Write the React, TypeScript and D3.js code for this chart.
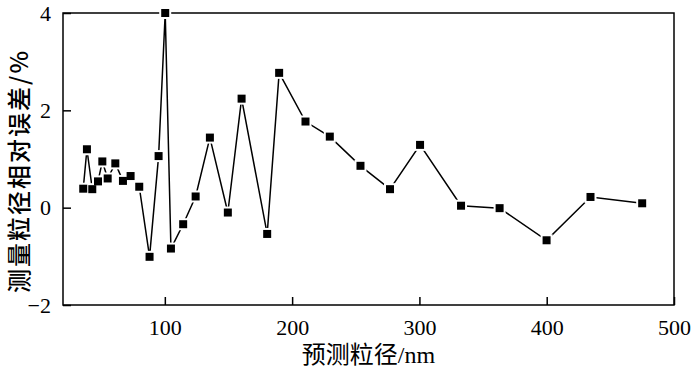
import { useRef, useEffect } from 'react'
import * as d3 from 'd3'

// predicted size (nm) vs relative error of measured size (%)
const sizes = [35.9, 38.8, 43, 47.5, 50.9, 55.1, 61.1, 67.1, 73.1, 79.9, 88, 95.1, 100.3, 104.8, 114.4, 124.2, 135.4, 149.5, 160.3, 180.4, 189.8, 210.5, 229.6, 253.7, 276.9, 300.5, 332.7, 363, 399.9, 434.4, 475]
const errors = [0.39, 1.2, 0.38, 0.54, 0.95, 0.6, 0.91, 0.55, 0.65, 0.43, -1.01, 1.06, 4.0, -0.84, -0.34, 0.23, 1.44, -0.1, 2.24, -0.54, 2.77, 1.77, 1.46, 0.86, 0.38, 1.29, 0.04, -0.01, -0.67, 0.22, 0.09]
const xTicks = [100, 200, 300, 400, 500]
const yTicks = [-2, 0, 2, 4]

const W = 700
const H = 370

const App = () => {
  const svgRef = useRef<SVGSVGElement>(null)

  useEffect(() => {
    if (!svgRef.current) return
    const svg = d3.select(svgRef.current)
    svg.selectAll('*').remove()

    const margin = { top: 13, right: 26, bottom: 65, left: 63 }
    const iw = W - margin.left - margin.right
    const ih = H - margin.top - margin.bottom
    const serif = "'Liberation Serif', 'DejaVu Serif', serif"
    const cjk = "'Liberation Serif', 'DejaVu Serif', 'Noto Sans CJK SC', serif"

    const x = d3.scaleLinear().domain([20, 500]).range([0, iw])
    const y = d3.scaleLinear().domain([-2, 4]).range([ih, 0])

    const g = svg.append('g').attr('transform', `translate(${margin.left},${margin.top})`)

    // inward ticks, bottom
    const xa = g.append('g')
      .attr('transform', `translate(0,${ih})`)
      .call(d3.axisBottom(x).tickValues(xTicks).tickSizeInner(-8).tickSizeOuter(0).tickPadding(14).tickFormat(d3.format('d')))
    xa.attr('font-family', null).attr('font-size', null)
    xa.select('.domain').remove()
    xa.selectAll('line').attr('stroke', '#000').attr('stroke-width', 1.5)
    xa.selectAll('text').style('font-family', serif).style('font-size', '22px').attr('fill', '#000')

    // inward ticks, left
    const ya = g.append('g')
      .call(d3.axisLeft(y).tickValues(yTicks).tickSizeInner(-8).tickSizeOuter(0).tickPadding(12).tickFormat(d3.format('d')))
    ya.attr('font-family', null).attr('font-size', null)
    ya.select('.domain').remove()
    ya.selectAll('line').attr('stroke', '#000').attr('stroke-width', 1.5)
    ya.selectAll('text').style('font-family', serif).style('font-size', '22px').attr('fill', '#000')

    // frame
    g.append('rect')
      .attr('width', iw)
      .attr('height', ih)
      .attr('fill', 'none')
      .attr('stroke', '#000')
      .attr('stroke-width', 1.5)

    const pts = sizes.map((s, i) => [s, errors[i]] as [number, number])

    const line = d3.line<[number, number]>()
      .x(d => x(d[0]))
      .y(d => y(d[1]))

    g.append('path')
      .datum(pts)
      .attr('fill', 'none')
      .attr('stroke', '#000')
      .attr('stroke-width', 1.5)
      .attr('d', line)

    // white halo behind markers gives the little gap at each point
    g.selectAll('.halo')
      .data(pts)
      .join('rect')
      .attr('class', 'halo')
      .attr('x', d => x(d[0]) - 6)
      .attr('y', d => y(d[1]) - 6)
      .attr('width', 12)
      .attr('height', 12)
      .attr('fill', '#fff')

    g.selectAll('.mark')
      .data(pts)
      .join('rect')
      .attr('class', 'mark')
      .attr('x', d => x(d[0]) - 4)
      .attr('y', d => y(d[1]) - 4)
      .attr('width', 8)
      .attr('height', 8)
      .attr('fill', '#000')

    // axis titles
    svg.append('text')
      .attr('x', margin.left + iw / 2)
      .attr('y', 363)
      .attr('text-anchor', 'middle')
      .style('font-family', cjk)
      .style('font-size', '24px')
      .text('预测粒径/nm')

    svg.append('text')
      .attr('transform', `translate(28,${margin.top + ih / 2 + 12}) rotate(-90)`)
      .attr('text-anchor', 'middle')
      .style('font-family', "'Noto Sans CJK SC', sans-serif")
      .style('font-size', '24px')
      .style('font-weight', 500)
      .style('letter-spacing', '2px')
      .text('测量粒径相对误差/%')
  }, [])

  return (
    <svg ref={svgRef} width={W} height={H} style={{ position: 'absolute', left: 0, top: 0, background: '#fff' }} />
  )
}

export default App
